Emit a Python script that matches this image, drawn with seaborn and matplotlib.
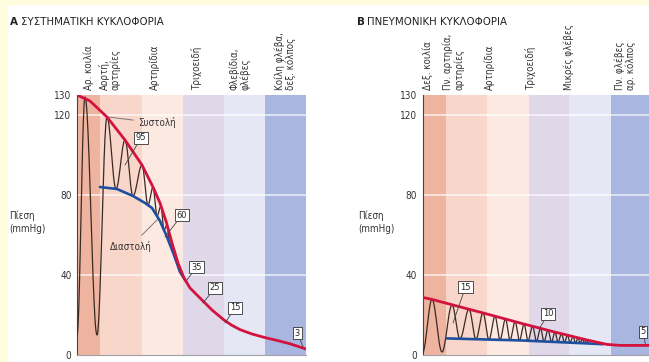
import numpy as np
import pandas as pd
import matplotlib.pyplot as plt
from matplotlib.patches import Rectangle
from matplotlib import font_manager as fm
import seaborn as sns

# ==================================================
# DATA (x = distance along the circuit, arbitrary units)
# ==================================================
# --- A: systemic circulation ---
bands_A = ["Αρ. κοιλία", "Αορτή,\nαρτηρίες", "Αρτηρίδια", "Τριχοειδή",
           "Φλεβίδια,\nφλέβες", "Κοίλη φλέβα,\nδεξ. κόλπος"]
edges_A = [0, 23, 64.5, 106, 147, 188, 229]

sys_A_x = [0, 13, 30, 48, 65, 76, 83, 89, 95, 101, 107, 113, 123, 135, 147, 155, 163,
           175, 188, 200, 213, 229]
sys_A_y = [130, 127, 119, 107.5, 95, 84, 76, 67, 56, 46, 38.5, 33.5, 28.5, 22.5, 17.5,
           14.8, 12.7, 10.5, 8.7, 7.3, 5.6, 3]

dia_A_x = [23, 40, 56, 68, 75, 83, 90, 97, 103, 109]
dia_A_y = [84, 83, 79.5, 76, 73.5, 67, 59, 50, 41.5, 36.8]

# turning points of the pressure wave (peaks / troughs)
wav_A_x = [0, 8, 20, 30, 39, 48, 56, 65, 71, 76, 80, 84, 87, 90, 93, 95.5, 98, 100, 102, 104]
wav_A_y = [10, 129, 10, 119, 83, 107.5, 79.5, 95, 75, 84, 69.5, 74.5, 62.5, 65, 55, 55, 48.6, 47.5, 43, 41.7]

# --- B: pulmonary circulation ---
bands_B = ["Δεξ. κοιλία", "Πν. αρτηρία,\nαρτηρίες", "Αρτηρίδια", "Τριχοειδή",
           "Μικρές φλέβες", "Πν. φλέβες\nαρ. κόλπος"]
edges_B = [0, 23.5, 64, 106.5, 146, 188.5, 229.5]

sys_B_x = [0, 9.5, 30.5, 64.5, 97.5, 130.5, 164.5, 184.5, 197.5, 226.5]
sys_B_y = [28.8, 27.8, 25, 20.5, 16, 11.7, 7.5, 5.3, 4.8, 4.8]

dia_B_x = [24, 97.5, 164.5, 180.5]
dia_B_y = [8.3, 7.3, 5.8, 5.4]

wav_B_x = [0, 9.5, 19.5, 29.5, 37.5, 46.5, 53.5, 60.5, 66.5, 72.5, 77.5, 83, 87.5, 92.5,
           97, 101.5, 105.5, 110, 114, 118, 121.5, 125.5, 129, 132.5, 135.5, 139, 142,
           145, 147.5, 150.5, 153, 155.5, 157.5, 160, 162, 164, 166]
wav_B_y = [1, 27.8, 1.5, 25, 8.1, 22.9, 7.9, 21, 7.7, 19.4, 7.6, 18, 7.4, 16.7,
           7.3, 15.5, 7.1, 14.4, 6.9, 13.3, 6.8, 12.4, 6.6, 11.4, 6.5, 10.6, 6.3,
           9.9, 6.2, 9.2, 6.1, 8.6, 6.0, 8.0, 5.9, 7.5, 5.8]

# boxed pressure values: (label, box x, box y, pointer x, pointer y)
notes_A = [("95", 64, 108.5, 48, 95), ("60", 105, 70, 88, 59),
           ("35", 119.5, 44, 110, 37.5), ("25", 138, 33.5, 126, 26),
           ("15", 158, 23.5, 148, 16), ("3", 220.5, 11, 226, 4)]
notes_B = [("15", 43, 34, 30.5, 16), ("10", 125.5, 20.5, 117, 13.3),
           ("5", 220.5, 11.5, 223, 5.2)]

label_pos_A = [12, 33, 78, 120, 163, 208]
label_pos_B = [5, 31, 67.5, 108, 146.5, 202.5]

band_colors = ["#efb4a0", "#f8d6c9", "#fce9e2", "#e0d7e9", "#e5e8f4", "#a9b6df"]
RED = "#d3123f"
BLUE = "#1d4f9e"
WAVE = "#3b2a22"

# pick a narrow face if one is installed
names = {(f.name, f.stretch) for f in fm.fontManager.ttflist}
if any(n == "Liberation Sans Narrow" for n, _ in names):
    FONT, STRETCH, FS = ["Liberation Sans Narrow", "DejaVu Sans"], "normal", 1.0
elif ("DejaVu Sans", "condensed") in names:
    FONT, STRETCH, FS = ["DejaVu Sans"], "condensed", 0.95
else:
    FONT, STRETCH, FS = ["DejaVu Sans"], "normal", 0.82


def txt_kw(size):
    return dict(family=FONT, fontstretch=STRETCH, fontsize=size * FS)


def smooth_wave(xt, yt, n=24):
    """join turning points with half-cosine segments"""
    xs, ys = [], []
    for i in range(len(xt) - 1):
        t = np.linspace(0, 1, n, endpoint=False)
        xs.append(xt[i] + (xt[i + 1] - xt[i]) * t)
        ys.append(yt[i] + (yt[i + 1] - yt[i]) * (1 - np.cos(np.pi * t)) / 2)
    xs.append([xt[-1]])
    ys.append([yt[-1]])
    return pd.DataFrame({"x": np.concatenate(xs), "p": np.concatenate(ys)})


def draw_panel(ax, edges, bands, label_pos, sys_x, sys_y, dia_x, dia_y,
               wav_x, wav_y, notes, xmax):
    for i in range(len(bands)):
        ax.axvspan(edges[i], edges[i + 1], ymin=0, ymax=1,
                   color=band_colors[i], lw=0, zorder=0)
        ax.text(label_pos[i], 132.5, bands[i], rotation=90, ha="center",
                va="bottom", multialignment="left", color="#333333",
                clip_on=False, linespacing=1.05, **txt_kw(7.4))
    for g in [40, 80, 120]:
        ax.axhline(g, color="white", lw=1.1, alpha=0.8, zorder=1)

    w = smooth_wave(wav_x, wav_y)
    sns.lineplot(data=w, x="x", y="p", ax=ax, color=WAVE, lw=0.9,
                 estimator=None, sort=False, zorder=3)
    sns.lineplot(x=dia_x, y=dia_y, ax=ax, color=BLUE, lw=1.9,
                 estimator=None, zorder=4)
    sns.lineplot(x=sys_x, y=sys_y, ax=ax, color=RED, lw=2.0,
                 estimator=None, zorder=5)

    for txt, bx, by, px, py in notes:
        ax.annotate(txt, xy=(px, py), xytext=(bx, by),
                    ha="center", va="center", zorder=6, **txt_kw(7),
                    bbox=dict(boxstyle="square,pad=0.2", fc="white",
                              ec="#333333", lw=0.6),
                    arrowprops=dict(arrowstyle="-", color="#444444", lw=0.6,
                                    shrinkA=0, shrinkB=0))

    ax.set_xlim(0, xmax)
    ax.set_ylim(0, 130)
    ax.set_xticks([])
    ax.set_yticks([0, 40, 80, 120, 130])
    ax.tick_params(axis="y", length=0, pad=4, labelsize=7.6 * FS, labelcolor="#333333")
    for lab in ax.get_yticklabels():
        lab.set_family(FONT)
        lab.set_stretch(STRETCH)
    ax.set_xlabel("")
    ax.set_ylabel("")
    for s in ["top", "right"]:
        ax.spines[s].set_visible(False)
    ax.spines["left"].set_color("#5a4038")
    ax.spines["left"].set_linewidth(0.8)
    ax.spines["bottom"].set_color("#a0a0a8")
    ax.spines["bottom"].set_linewidth(0.8)


sns.set_theme(style="white")
fig = plt.figure(figsize=(6.49, 3.62), dpi=100)
W, H = 649, 362

# yellow page edge
fig.patches.append(Rectangle((0, 1 - 4 / H), 1, 4 / H, transform=fig.transFigure,
                             color="#fefcdc", zorder=0))
fig.patches.append(Rectangle((0, 0), 7 / W, 1, transform=fig.transFigure,
                             color="#fefcdc", zorder=0))

axA = fig.add_axes([77 / W, 1 - 355 / H, 229 / W, 260 / H])
axB = fig.add_axes([422.5 / W, 1 - 355 / H, 226.5 / W, 260 / H])

draw_panel(axA, edges_A, bands_A, label_pos_A, sys_A_x, sys_A_y, dia_A_x, dia_A_y,
           wav_A_x, wav_A_y, notes_A, 229)
draw_panel(axB, edges_B, bands_B, label_pos_B, sys_B_x, sys_B_y, dia_B_x, dia_B_y,
           wav_B_x, wav_B_y, notes_B, 226.5)

# curve names in panel A
axA.annotate("Συστολή", xy=(31, 119), xytext=(61, 116), **txt_kw(7.4),
             ha="left", va="center", color="#333333",
             arrowprops=dict(arrowstyle="-", color="#777777", lw=0.7,
                             shrinkA=1, shrinkB=0))
axA.annotate("Διαστολή", xy=(81, 68), xytext=(54, 54.5), **txt_kw(7.4),
             ha="center", va="center", color="#333333",
             arrowprops=dict(arrowstyle="-", color="#777777", lw=0.7,
                             shrinkA=2, shrinkB=0))

# y label
for x0 in [9, 358]:
    fig.text(x0 / W, 1 - 222 / H, "Πίεση\n(mmHg)", **txt_kw(7.4),
             ha="left", va="center", color="#333333", linespacing=1.4)

# panel titles
for x0, letter, x1, title in [(10, "A", 21, "ΣΥΣΤΗΜΑΤΙΚΗ ΚΥΚΛΟΦΟΡΙΑ"),
                              (357, "B", 367, "ΠΝΕΥΜΟΝΙΚΗ ΚΥΚΛΟΦΟΡΙΑ")]:
    fig.text(x0 / W, 1 - 22 / H, letter, weight="bold", va="center",
             color="#222222", **txt_kw(8.6))
    fig.text(x1 / W, 1 - 22 / H, title, va="center", color="#222222", **txt_kw(8.6))

fig.savefig("out.png", dpi=100)
